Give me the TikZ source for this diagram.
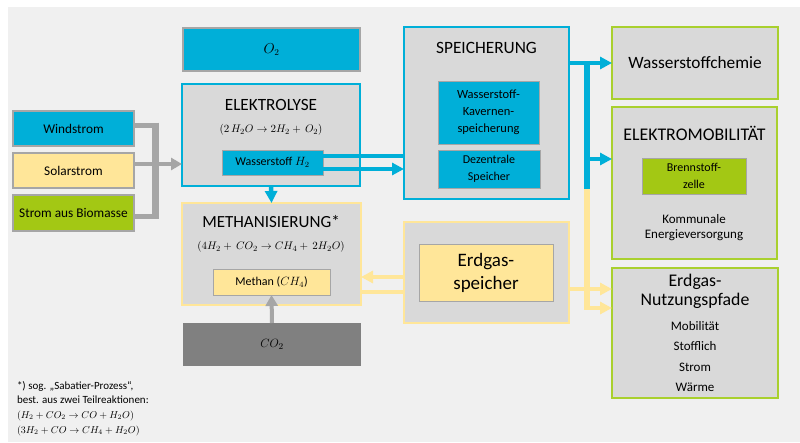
\documentclass[tikz,border=0pt]{standalone}
\usepackage{fontspec}
\setmainfont{Carlito}
\usetikzlibrary{arrows.meta,calc}
\definecolor{bgc}{HTML}{F0F0F0}
\definecolor{cy}{HTML}{00AFD8}
\definecolor{ye}{HTML}{FFE699}
\definecolor{gr}{HTML}{A3C814}
\definecolor{grb}{HTML}{A9D02E}
\definecolor{bxc}{HTML}{D9D9D9}
\definecolor{ln}{HTML}{A6A6A6}
\definecolor{dk}{HTML}{808080}
\newcommand{\fs}[2]{\fontsize{#1}{#2}\selectfont}
\tikzset{
 boxs/.style={rectangle, inner sep=0pt, outer sep=0pt, line width=1.2pt, align=center, text=black},
 lab/.style={inner sep=0pt, outer sep=0pt, align=center, text=black},
 gline/.style={draw=ln, line width=5pt},
 garrow/.style={draw=ln, line width=4.5pt, -{Triangle[length=11pt,width=12pt]}},
 cline/.style={draw=cy, line width=4.5pt},
 carrow/.style={draw=cy, line width=4.5pt, -{Triangle[length=12pt,width=12pt]}},
 yline/.style={draw=ye, line width=4.5pt},
 yarrow/.style={draw=ye, line width=4.5pt, -{Triangle[length=12pt,width=12pt]}},
}
\begin{document}
\begin{tikzpicture}[x=1pt,y=-1pt]
\useasboundingbox (0,0) rectangle (800,442);
\fill[white] (0,0) rectangle (800,442);
\fill[bgc] (8,7) rectangle (800,442);

% left sources
\node[boxs, fill=cy, draw=ln, minimum width=121pt, minimum height=35pt, font=\fs{13.3}{15}] (wind) at (73.5,128.5) {Windstrom};
\node[boxs, fill=ye, draw=ln, minimum width=121pt, minimum height=35pt, font=\fs{13.3}{15}] (solar) at (73.5,170.5) {Solarstrom};
\node[boxs, fill=gr, draw=ln, minimum width=121pt, minimum height=36pt, font=\fs{13.3}{15}] (bio) at (73.5,213) {Strom aus Biomasse};

% O2
\node[boxs, fill=cy, draw=ln, minimum width=177pt, minimum height=43pt, font=\fs{13.5}{15}] (o2) at (271.5,49.5) {$O_2$};

% Elektrolyse
\node[boxs, fill=bxc, draw=cy, minimum width=178pt, minimum height=102pt] (elek) at (271,135) {};
\node[lab, font=\fs{17.2}{19}] (elekt) at (271,105) {ELEKTROLYSE};
\node[lab, font=\fs{10.8}{12}] (eleke) at (271,130) {$(2\,H_2O \rightarrow 2H_2 +\, O_2)$};
\node[boxs, fill=cy, draw=ln, line width=1pt, minimum width=101pt, minimum height=25pt, font=\fs{12}{14}] (h2) at (272.5,162.5) {Wasserstoff $H_2$};

% Methanisierung
\node[boxs, fill=bxc, draw=ye, minimum width=179pt, minimum height=102pt] (meth) at (271.5,254) {};
\node[lab, font=\fs{17}{19}] (metht) at (271,222) {METHANISIERUNG*};
\node[lab, font=\fs{10.8}{12}] (methe) at (271,247) {$(4H_2 +\, CO_2 \rightarrow CH_4 +\, 2H_2O)$};
\node[boxs, fill=ye, draw=ln, line width=1pt, minimum width=117pt, minimum height=26pt, font=\fs{12}{14}] (methan) at (271.5,282) {Methan ($CH_4$)};

% CO2
\node[boxs, fill=dk, minimum width=178pt, minimum height=43pt, font=\fs{12.5}{14}] (co2) at (272,344.5) {$CO_2$};

% Speicherung
\node[boxs, fill=bxc, draw=cy, minimum width=165pt, minimum height=172pt] (spei) at (486.5,113) {};
\node[lab, font=\fs{17.3}{19}] (speit) at (486.5,48) {SPEICHERUNG};
\node[boxs, fill=cy, draw=ln, line width=1pt, minimum width=101pt, minimum height=63pt, font=\fs{12.5}{17}] (kav) at (488.5,112.5) {Wasserstoff-\\Kavernen-\\speicherung};
\node[boxs, fill=cy, draw=ln, line width=1pt, minimum width=102pt, minimum height=38pt, font=\fs{12}{17}] (dez) at (489,169) {Dezentrale\\Speicher};

% Erdgasspeicher
\node[boxs, fill=bxc, draw=ye, minimum width=165pt, minimum height=101pt] (erd) at (486.5,272.5) {};
\node[boxs, fill=ye, draw=ln, line width=1pt, minimum width=134pt, minimum height=57pt, font=\fs{19}{23}] (erdi) at (486,273) {Erdgas-\\speicher};

% right targets
\node[boxs, fill=bxc, draw=grb, line width=1.6pt, minimum width=166pt, minimum height=72pt, font=\fs{17.3}{19}] (chem) at (695,63) {Wasserstoffchemie};
\node[boxs, fill=bxc, draw=grb, line width=1.6pt, minimum width=165pt, minimum height=152pt] (emob) at (694.5,183) {};
\node[lab, font=\fs{17.8}{19}] (emobt) at (694.5,133) {ELEKTROMOBILITÄT};
\node[boxs, fill=gr, draw=ln, line width=1pt, minimum width=104pt, minimum height=36pt, font=\fs{12}{17}] (bz) at (694,176) {Brennstoff-\\zelle};
\node[lab, font=\fs{13}{15}] (komm) at (694,227.5) {Kommunale\\Energieversorgung};
\node[boxs, fill=bxc, draw=grb, line width=1.6pt, minimum width=166pt, minimum height=130pt] (nutz) at (695,333) {};
\node[lab, font=\fs{17.8}{19.5}] (nutzt) at (695,291.5) {Erdgas-\\Nutzungspfade};
\node[lab, font=\fs{13}{20.3}] (nutzi) at (695,356.5) {Mobilität\\Stofflich\\Strom\\Wärme};

% footnote
\node[lab, anchor=north west, align=left, font=\fs{11}{14.7}] (fn) at (17,381) {*) sog. „Sabatier-Prozess“,\\best. aus zwei Teilreaktionen:\\{\fs{9.9}{14.7}$(H_2 + CO_2 \rightarrow CO + H_2O)$}\\{\fs{9.9}{14.7}$(3H_2 + CO \rightarrow CH_4 + H_2O)$}};

% gray connectors
\coordinate (gbus) at (155.5,0);
\draw[gline] ([yshift=3.5pt]wind.east) -- ([yshift=3.5pt]wind.east -| gbus);
\draw[gline] ([yshift=-3.5pt]bio.east) -- ([yshift=-3.5pt]bio.east -| gbus);
\draw[draw=ln, line width=7pt] ([yshift=6pt]wind.east -| gbus) -- ([yshift=-6pt]bio.east -| gbus);
\draw[garrow] ([yshift=6.5pt]solar.east) -- ([yshift=6.5pt]solar.east -| elek.west);

% cyan connectors
\draw[carrow] (elek.south) -- (meth.north);
\draw[cline] ([yshift=6.5pt]h2.east) -- ([yshift=6.5pt]h2.east -| spei.west);
\draw[carrow] ([yshift=-6.5pt]h2.east) -- ([yshift=-6.5pt]h2.east -| spei.west);

% gray co2
\draw[garrow, line width=4pt] (co2.north) -- (methan.south);

% yellow between methanisierung and erdgasspeicher
\draw[yarrow] ([yshift=-4.5pt]erd.west) -- ([yshift=-4.5pt]erd.west -| meth.east);
\draw[yline] ([yshift=-38pt]meth.east) -- ([yshift=-38pt]meth.east -| erd.west);

% right bus
\coordinate (rbus) at (587,0);
\coordinate (rjoin) at (587,189);
\draw[draw=ye, line width=6pt] (rjoin) -- ([yshift=22.75pt]nutz.west -| rbus);
\draw[cline] (chem.west -| spei.east) -- (chem.west -| rbus);
\draw[carrow] (chem.west -| spei.east) -- (chem.west);
\draw[draw=cy, line width=6pt] ([yshift=2.25pt]chem.west -| rbus) -- (rjoin);
\draw[carrow] ([yshift=24pt]emob.west -| rbus) -- ([yshift=24pt]emob.west);
\draw[yarrow] ([yshift=44pt]nutz.west -| erd.east) -- ([yshift=44pt]nutz.west);
\draw[yarrow] ([yshift=25pt]nutz.west -| rbus) -- ([yshift=25pt]nutz.west);
\end{tikzpicture}
\end{document}
